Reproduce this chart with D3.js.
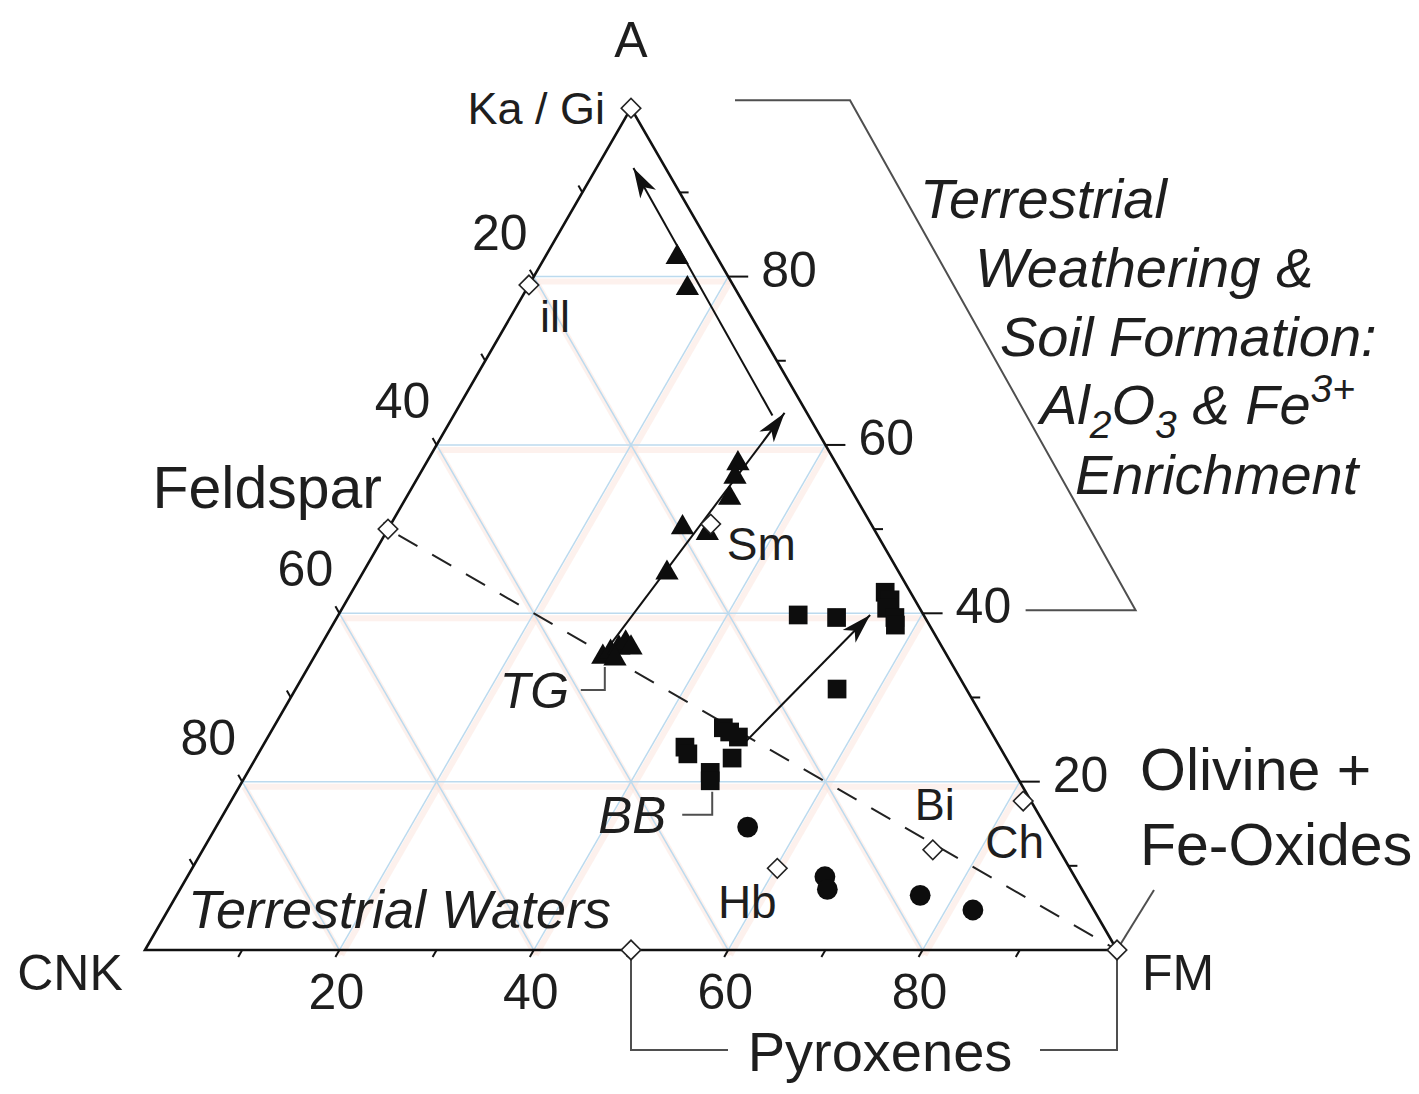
<!DOCTYPE html>
<html>
<head>
<meta charset="utf-8">
<script src="https://cdn.jsdelivr.net/npm/d3@7"></script>
<style>
  html, body { margin: 0; padding: 0; background: #ffffff; }
  svg { display: block; }
  text { font-family: "Liberation Sans", Arial, Helvetica, sans-serif; fill: #1e1e1e; }
</style>
</head>
<body>
<svg id="chart" width="1419" height="1094"></svg>
<script>
// ---- Data: compositions are [A, CNK, FM] in percent ----
const apexNames = ["A", "CNK", "FM"];
const tickValues = [20, 40, 60, 80];
const minorTickValues = [10, 30, 50, 70, 90];
const gridValues = [20, 40, 60, 80];

// TG samples (triangles)
const tgSamples = [
  [82.3, 4.1, 13.6], [78.6, 4.9, 16.5],
  [57.8, 10.1, 32.1], [56.2, 11.2, 32.6], [53.7, 13.0, 33.3],
  [49.5, 17.4, 33.1], [50.2, 19.6, 30.2], [44.8, 23.9, 31.3],
  [34.8, 35.5, 29.7], [35.4, 34.4, 30.2], [35.9, 33.3, 30.8],
  [36.5, 32.3, 31.2], [34.6, 34.35, 31.05], [35.9, 32.05, 32.05]
];

// BB samples (squares)
const bbSamples = [
  [26.4, 27.3, 46.3], [25.3, 26.3, 48.4], [25.9, 26.9, 47.2],
  [24.1, 32.4, 43.5], [23.3, 32.5, 44.2], [22.8, 28.2, 49.0],
  [21.1, 31.3, 47.6], [20.1, 31.8, 48.1],
  [39.8, 12.9, 47.3], [39.5, 9.1, 51.4], [42.5, 2.6, 54.9],
  [41.6, 2.55, 55.85], [40.6, 3.4, 56.0], [39.5, 3.1, 57.4],
  [38.6, 3.5, 57.9], [31.0, 13.3, 55.7]
];

// Basalt samples (circles)
const basaltSamples = [
  [14.6, 30.7, 54.7], [8.7, 25.7, 65.6], [7.2, 26.2, 66.6],
  [6.5, 17.0, 76.5], [4.75, 12.45, 82.8]
];

// Reference minerals (open diamonds)
const mineralNames = ["Ka / Gi", "ill", "Feldspar", "Sm", "Hb", "Bi", "Ch", "Pyroxenes", "FM"];
const mineralComps = [
  [100, 0, 0], [79, 21, 0], [50, 50, 0], [50.6, 16.5, 32.9],
  [9.7, 30.1, 60.2], [11.9, 13.0, 75.1], [17.7, 0.8, 81.5],
  [0, 50, 50], [0, 0, 100]
];

// Weathering trend arrows: [start, end]
const trendArrows = [
  [[34.7, 35.8, 29.5], [63.8, 2.3, 33.9]],
  [[63.5, 3.7, 32.8], [92.9, 3.3, 3.8]],
  [[24.7, 25.9, 49.4], [39.8, 5.5, 54.7]]
];

// Feldspar – FM join
const feldsparJoin = [[50, 50, 0], [0, 0, 100]];

// ---- Scales ----
const side = 972;
const xScale = d3.scaleLinear().domain([0, 100]).range([145, 145 + side]);
const yScale = d3.scaleLinear().domain([0, 100]).range([950, 950 - side * Math.sqrt(3) / 2]);

function project(c) {
  const s = c[0] + c[1] + c[2];
  const a = c[0] / s * 100, fm = c[2] / s * 100;
  return [xScale(fm + a / 2), yScale(a)];
}

const svg = d3.select("#chart");
const line = d3.line();

// ---- Grid (light blue with a faint pink companion) ----
const gridG = svg.append("g");
const gridSegs = [];
gridValues.forEach(v => {
  gridSegs.push([[v, 100 - v, 0], [v, 0, 100 - v]]);
  gridSegs.push([[100 - v, v, 0], [0, v, 100 - v]]);
  gridSegs.push([[100 - v, 0, v], [0, 100 - v, v]]);
});
gridG.selectAll("path.pink").data(gridSegs).join("path")
  .attr("class", "pink")
  .attr("d", d => line(d.map(project)))
  .attr("transform", "translate(2,5)")
  .attr("fill", "none").attr("stroke", "#fbe6df").attr("stroke-width", 6).attr("opacity", 0.55);
gridG.selectAll("path.blue").data(gridSegs).join("path")
  .attr("class", "blue")
  .attr("d", d => line(d.map(project)))
  .attr("fill", "none").attr("stroke", "#bcdaee").attr("stroke-width", 1.5);

// ---- Frame ----
const corners = [[100, 0, 0], [0, 100, 0], [0, 0, 100]];
svg.append("path")
  .attr("d", line(corners.map(project)) + "Z")
  .attr("fill", "none").attr("stroke", "#111").attr("stroke-width", 2.6)
  .attr("stroke-linejoin", "miter");

// ---- Ticks ----
const tickG = svg.append("g").attr("stroke", "#111").attr("stroke-width", 2);
const allTicks = tickValues.concat(minorTickValues);
// right side: A
allTicks.forEach(v => {
  const p = project([v, 0, 100 - v]);
  const len = tickValues.includes(v) ? 20 : 9;
  tickG.append("line").attr("x1", p[0]).attr("y1", p[1]).attr("x2", p[0] + len).attr("y2", p[1]);
});
// left side: CNK
allTicks.forEach(v => {
  const p = project([100 - v, v, 0]);
  tickG.append("line").attr("x1", p[0]).attr("y1", p[1])
    .attr("x2", p[0] - 0.5 * 8).attr("y2", p[1] - 0.866 * 8);
});
// bottom: FM
allTicks.forEach(v => {
  const p = project([0, 100 - v, v]);
  tickG.append("line").attr("x1", p[0]).attr("y1", p[1])
    .attr("x2", p[0] - 0.5 * 8).attr("y2", p[1] + 0.866 * 8);
});

// ---- Tick labels ----
const lblG = svg.append("g").style("font-size", "50px");
tickValues.forEach(v => {
  const pl = project([100 - v, v, 0]);
  lblG.append("text").attr("x", pl[0] - 34).attr("y", pl[1] - 27)
    .attr("text-anchor", "middle").text(v);
  const pr = project([v, 0, 100 - v]);
  lblG.append("text").attr("x", pr[0] + 33).attr("y", pr[1] + 10)
    .attr("text-anchor", "start").text(v);
  const pb = project([0, 100 - v, v]);
  lblG.append("text").attr("x", pb[0] - 3).attr("y", pb[1] + 59)
    .attr("text-anchor", "middle").text(v);
});

// ---- Apex labels ----
const apexPos = corners.map(project);
const apexOffsets = [[0, -51, "middle"], [-75, 40, "middle"], [25, 40, "start"]];
apexNames.forEach((n, i) => {
  svg.append("text")
    .attr("x", apexPos[i][0] + apexOffsets[i][0])
    .attr("y", apexPos[i][1] + apexOffsets[i][1])
    .attr("text-anchor", apexOffsets[i][2])
    .style("font-size", "50px").text(n);
});

// ---- Annotation brackets (grey) ----
const brG = svg.append("g").attr("fill", "none").attr("stroke", "#4f4f4f").attr("stroke-width", 2);
const pKa = project(mineralComps[0]);
const pA40 = project([40, 0, 60]);
brG.append("path").attr("d", line([
  [pKa[0] + 104, pKa[1] - 8], [pKa[0] + 219, pKa[1] - 8],
  [pA40[0] + 213, pA40[1] - 3], [pA40[0] + 103, pA40[1] - 3]
]));
const pPx = project(mineralComps[7]);
const pFM = project(mineralComps[8]);
brG.append("path").attr("d", line([[pPx[0], pPx[1] + 9], [pPx[0], 1050], [pPx[0] + 97, 1050]]));
brG.append("path").attr("d", line([[pFM[0] - 77, 1050], [pFM[0], 1050], [pFM[0], pFM[1] + 9]]));
brG.append("path").attr("d", line([[pFM[0] + 3, pFM[1] - 5], [pFM[0] + 37, pFM[1] - 60]]));
// TG and BB leaders
const pTG = project(tgSamples[8]);
brG.append("path").attr("d", line([[pTG[0] + 2, pTG[1] + 10], [pTG[0] + 2, pTG[1] + 33], [pTG[0] - 22, pTG[1] + 33]]));
const pBB = project(bbSamples[7]);
brG.append("path").attr("d", line([[pBB[0] + 2, pBB[1] + 11], [pBB[0] + 2, pBB[1] + 34], [pBB[0] - 28, pBB[1] + 34]]));

// ---- Feldspar – FM dashed join ----
svg.append("path")
  .attr("d", line(feldsparJoin.map(project)))
  .attr("fill", "none").attr("stroke", "#222").attr("stroke-width", 2)
  .attr("stroke-dasharray", "22 17").attr("stroke-dashoffset", -12);

// ---- Trend arrows ----
const defs = svg.append("defs");
defs.append("marker").attr("id", "head")
  .attr("viewBox", "-31 -10 33 20").attr("refX", 0).attr("refY", 0)
  .attr("markerWidth", 33).attr("markerHeight", 20)
  .attr("markerUnits", "userSpaceOnUse").attr("orient", "auto")
  .append("path").attr("d", "M0,0 L-30,-9 L-22,0 L-30,9 Z").attr("fill", "#111");
svg.append("g").selectAll("path").data(trendArrows).join("path")
  .attr("d", d => line(d.map(project)))
  .attr("fill", "none").attr("stroke", "#111").attr("stroke-width", 2)
  .attr("marker-end", "url(#head)");

// ---- Samples ----
const ptsG = svg.append("g").attr("fill", "#0d0d0d");
ptsG.selectAll("path.tri").data(tgSamples).join("path").attr("class", "tri")
  .attr("d", d3.symbol(d3.symbolTriangle, 235))
  .attr("transform", d => `translate(${project(d)})`);
ptsG.selectAll("path.sq").data(bbSamples).join("path").attr("class", "sq")
  .attr("d", d3.symbol(d3.symbolSquare, 350))
  .attr("transform", d => `translate(${project(d)})`);
ptsG.selectAll("path.ci").data(basaltSamples).join("path").attr("class", "ci")
  .attr("d", d3.symbol(d3.symbolCircle, 340))
  .attr("transform", d => `translate(${project(d)})`);

// ---- Reference minerals ----
svg.append("g").selectAll("path").data(mineralComps).join("path")
  .attr("d", d3.symbol(d3.symbolSquare, 190))
  .attr("transform", d => { const p = project(d); return `translate(${p}) rotate(45)`; })
  .attr("fill", "#fff").attr("stroke", "#222").attr("stroke-width", 1.6);

// mineral labels: [dx, dy, anchor, size]
const mineralLabelStyle = {
  "Ka / Gi": [-26, 16, "end", 45],
  "ill": [11, 47, "start", 45],
  "Feldspar": [-6, -21, "end", 59],
  "Sm": [16, 36, "start", 46],
  "Hb": [-30, 50, "middle", 46],
  "Bi": [-18, -30, "start", 45],
  "Ch": [-38, 57, "start", 46],
  "Pyroxenes": [249, 121, "middle", 56]
};
mineralNames.forEach((n, i) => {
  const s = mineralLabelStyle[n];
  if (!s) return;
  const p = project(mineralComps[i]);
  svg.append("text").attr("x", p[0] + s[0]).attr("y", p[1] + s[1])
    .attr("text-anchor", s[2]).style("font-size", s[3] + "px").text(n);
});

// Olivine + Fe-Oxides
svg.append("text").attr("x", pFM[0] + 23).attr("y", pFM[1] - 160)
  .style("font-size", "59px").text("Olivine +");
svg.append("text").attr("x", pFM[0] + 23).attr("y", pFM[1] - 85)
  .style("font-size", "59px").text("Fe-Oxides");

// ---- Italic field labels ----
const it = svg.append("g").style("font-style", "italic");
it.append("text").attr("x", 188).attr("y", 928).style("font-size", "54px").text("Terrestrial Waters");
it.append("text").attr("x", pTG[0] - 103).attr("y", pTG[1] + 51).style("font-size", "50px").text("TG");
it.append("text").attr("x", pBB[0] - 112).attr("y", pBB[1] + 52).style("font-size", "51px").text("BB");

const wx = [920, 975, 1000, 1040, 1075];
const wy = [218, 287, 356, 424, 494];
const wBlock = it.append("g").style("font-size", "56px");
wBlock.append("text").attr("x", wx[0]).attr("y", wy[0]).text("Terrestrial");
wBlock.append("text").attr("x", wx[1]).attr("y", wy[1]).text("Weathering &");
wBlock.append("text").attr("x", wx[2]).attr("y", wy[2]).text("Soil Formation:");
const chem = wBlock.append("text").attr("x", wx[3]).attr("y", wy[3]);
chem.append("tspan").text("Al");
chem.append("tspan").attr("dy", 14).style("font-size", "39px").text("2");
chem.append("tspan").attr("dy", -14).text("O");
chem.append("tspan").attr("dy", 14).style("font-size", "39px").text("3");
chem.append("tspan").attr("dy", -14).text(" & Fe");
chem.append("tspan").attr("dy", -22).style("font-size", "39px").text("3+");
wBlock.append("text").attr("x", wx[4]).attr("y", wy[4]).text("Enrichment");
</script>
</body>
</html>
